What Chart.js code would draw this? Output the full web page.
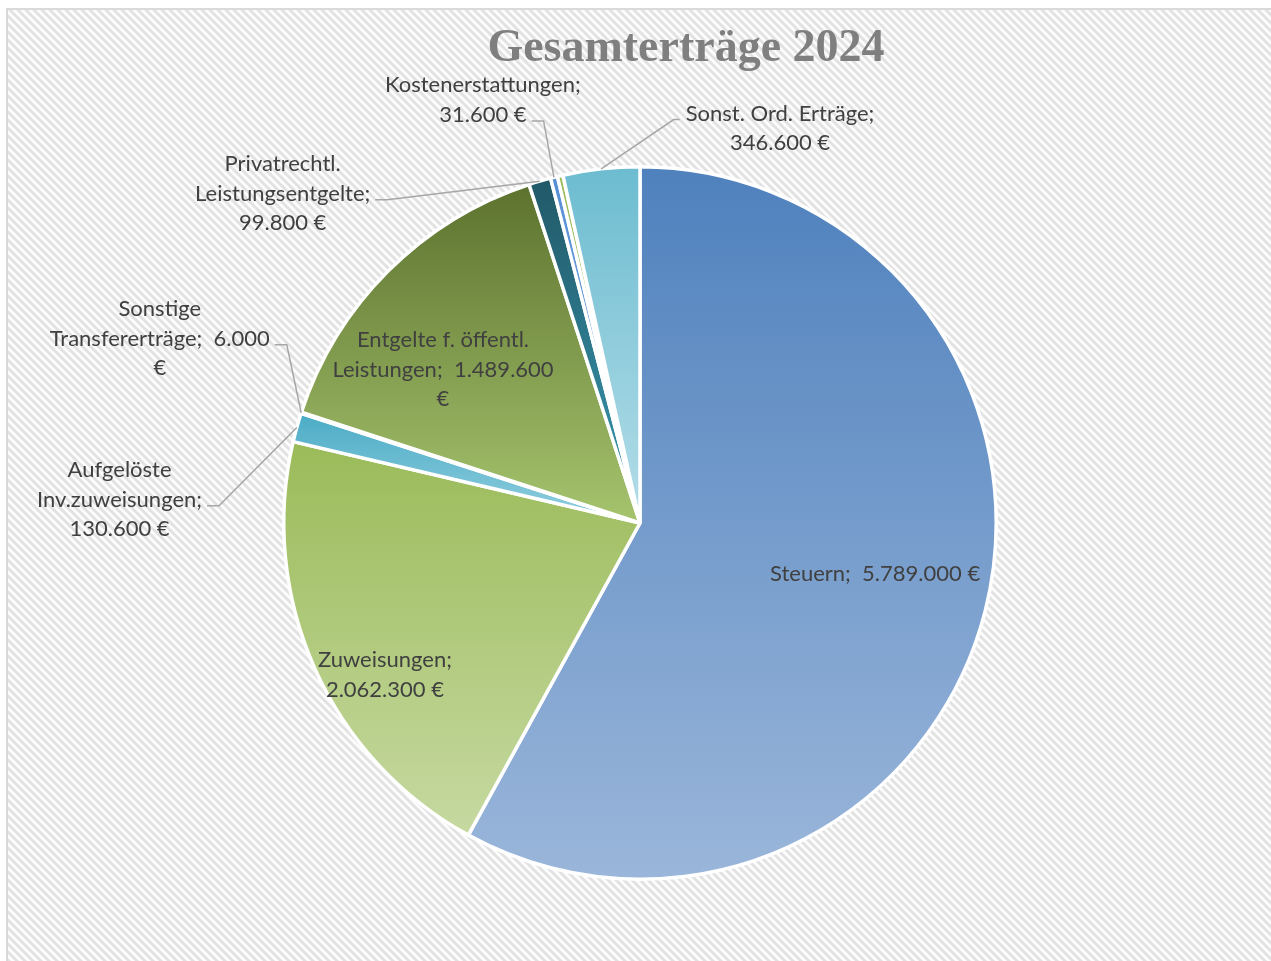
<!DOCTYPE html>
<html>
<head>
<meta charset="utf-8">
<title>Gesamterträge 2024</title>
<script src="https://cdn.jsdelivr.net/npm/chart.js@4/dist/chart.umd.min.js"></script>
<style>
  body { margin: 0; background: #fff; }
  canvas { display: block; }
</style>
</head>
<body>
<canvas id="ertraegeChart" width="1271" height="961"></canvas>
<script>
// Werte aus dem Diagramm
const chartTitle = 'Gesamterträge 2024';
const categories = [
  'Steuern',
  'Zuweisungen',
  'Aufgelöste Inv.zuweisungen',
  'Sonstige Transfererträge',
  'Entgelte f. öffentl. Leistungen',
  'Privatrechtl. Leistungsentgelte',
  'Kostenerstattungen',
  '',
  'Sonst. Ord. Erträge'
];
const values = [5789000, 2062300, 130600, 6000, 1489600, 99800, 31600, 25000, 346600];
// Beschriftung wie im Original umbrochen, {v} = Betrag
const labelTexts = [
  ['Steuern;  {v} €'],
  ['Zuweisungen;', '{v} €'],
  ['Aufgelöste', 'Inv.zuweisungen;', '{v} €'],
  ['Sonstige', 'Transfererträge;  {v}', '€'],
  ['Entgelte f. öffentl.', 'Leistungen;  {v}', '€'],
  ['Privatrechtl.', 'Leistungsentgelte;', '{v} €'],
  ['Kostenerstattungen;', '{v} €'],
  [],
  ['Sonst. Ord. Erträge;', '{v} €']
];

// Farben (oben -> unten Verlauf)
const colorsTop = ['#4f81bd', '#9bbb59', '#4bacc6', '#4f81bd', '#5c722e', '#215968', '#558ed5', '#9bbb59', '#6cbcd0'];
const colorsBottom = ['#9ab6da', '#c6d9a1', '#93cfe0', '#95b3d7', '#a6c46e', '#3a9ab3', '#8db3e2', '#c3d69b', '#b4dde8'];

// Position der Beschriftung relativ zum Mittelpunkt, in Radien
const labelLayout = [
  { dx: 0.66, dy: 0.143 },
  { dx: -0.716, dy: 0.427 },
  { dx: -1.461, dy: -0.065, leader: 'right', line: 1 },
  { dx: -1.348, dy: -0.517, leader: 'right', line: 1 },
  { dx: -0.553, dy: -0.43 },
  { dx: -1.003, dy: -0.924, leader: 'right', line: 1 },
  { dx: -0.441, dy: -1.187, leader: 'right', line: 1 },
  null,
  { dx: 0.393, dy: -1.108, leader: 'left', line: 0 }
];

function fmt(n) {
  return String(n).replace(/\B(?=(\d{3})+(?!\d))/g, '.');
}

function makePattern(ctx) {
  const p = document.createElement('canvas');
  p.width = 8; p.height = 8;
  const c = p.getContext('2d');
  c.fillStyle = '#fdfdfd';
  c.fillRect(0, 0, 8, 8);
  c.strokeStyle = '#e2e2e2';
  c.lineWidth = 3;
  for (const o of [-8, 0, 8]) {
    c.beginPath();
    c.moveTo(o - 1, -1);
    c.lineTo(o + 9, 9);
    c.stroke();
  }
  return ctx.createPattern(p, 'repeat');
}

const LABEL_FONT = '22px Lato';
const LINE_H = 29.5;

const piePlugin = {
  id: 'piePlugin',
  beforeDraw(chart) {
    const ctx = chart.ctx;
    ctx.save();
    ctx.fillStyle = '#ffffff';
    ctx.fillRect(0, 0, chart.width, chart.height);
    ctx.fillStyle = makePattern(ctx);
    ctx.fillRect(7, 9, chart.width, chart.height);
    ctx.strokeStyle = '#d9d9d9';
    ctx.lineWidth = 2;
    ctx.strokeRect(7, 9, chart.width + 10, chart.height + 10);
    ctx.restore();
  },
  beforeDatasetsDraw(chart) {
    const ctx = chart.ctx;
    const arcs = chart.getDatasetMeta(0).data;
    arcs.forEach((arc, i) => {
      const { x, y, startAngle, endAngle, outerRadius } = arc.getProps(['x', 'y', 'startAngle', 'endAngle', 'outerRadius'], true);
      const ys = [y, y + outerRadius * Math.sin(startAngle), y + outerRadius * Math.sin(endAngle)];
      for (let k = -4; k <= 8; k++) {
        const a = k * Math.PI / 2;
        if (a > startAngle && a < endAngle) ys.push(y + outerRadius * Math.sin(a));
      }
      const top = Math.min(...ys), bottom = Math.max(...ys);
      const g = ctx.createLinearGradient(0, top, 0, Math.max(bottom, top + 1));
      g.addColorStop(0, colorsTop[i]);
      g.addColorStop(1, colorsBottom[i]);
      arc.options.backgroundColor = g;
    });
  },
  afterDatasetsDraw(chart) {
    const ctx = chart.ctx;
    const arcs = chart.getDatasetMeta(0).data;
    const first = arcs[0];
    const cx = first.x, cy = first.y, R = first.outerRadius;
    ctx.save();
    ctx.font = LABEL_FONT;
    ctx.fillStyle = '#404040';
    ctx.textAlign = 'center';
    ctx.textBaseline = 'middle';
    arcs.forEach((arc, i) => {
      const lay = labelLayout[i];
      if (!lay) return;
      const lines = labelTexts[i].map(t => t.replace('{v}', fmt(values[i])));
      const lx = cx + lay.dx * R;
      const ly = cy + lay.dy * R;
      const y0 = ly - (lines.length - 1) * LINE_H / 2;
      lines.forEach((t, j) => ctx.fillText(t, lx, y0 + j * LINE_H));
      if (lay.leader) {
        const mid = (arc.startAngle + arc.endAngle) / 2;
        const ex = cx + R * Math.cos(mid);
        const ey = cy + R * Math.sin(mid);
        const w = ctx.measureText(lines[lay.line]).width;
        const sy = y0 + lay.line * LINE_H + 6;
        let sx, hx;
        if (lay.leader === 'right') { sx = lx + w / 2 + 5; hx = sx + 12; }
        else { sx = lx - w / 2 - 6; hx = sx - 6; }
        ctx.save();
        ctx.strokeStyle = '#a6a6a6';
        ctx.lineWidth = 1.5;
        ctx.beginPath();
        ctx.moveTo(sx, sy);
        ctx.lineTo(hx, sy);
        ctx.lineTo(ex, ey);
        ctx.stroke();
        ctx.restore();
      }
    });
    // Titel
    ctx.font = 'bold 46px "Liberation Serif"';
    ctx.fillStyle = '#7f7f7f';
    ctx.textBaseline = 'alphabetic';
    ctx.fillText(chartTitle, 686, 61);
    ctx.restore();
  }
};

const ctx = document.getElementById('ertraegeChart').getContext('2d');
new Chart(ctx, {
  type: 'pie',
  data: {
    labels: categories,
    datasets: [{
      data: values,
      backgroundColor: colorsTop,
      borderColor: '#ffffff',
      borderWidth: 3.5
    }]
  },
  options: {
    responsive: false,
    animation: false,
    layout: { padding: { top: 165, bottom: 80, left: 280, right: 271 } },
    plugins: {
      legend: { display: false },
      tooltip: { enabled: false }
    }
  },
  plugins: [piePlugin]
});
</script>
</body>
</html>
